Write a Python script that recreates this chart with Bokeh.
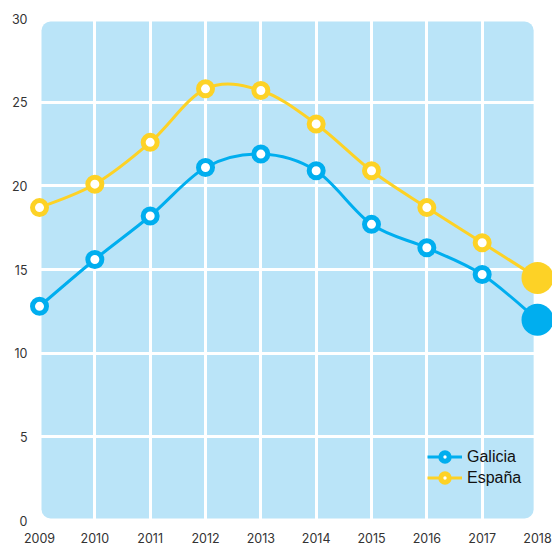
from bokeh.plotting import figure
from bokeh.models import Range1d, FixedTicker, BoxAnnotation, Legend, LegendItem, ColumnDataSource
from bokeh.embed import file_html
from bokeh.resources import INLINE

years = [2009, 2010, 2011, 2012, 2013, 2014, 2015, 2016, 2017, 2018]
galicia = [12.8, 15.6, 18.2, 21.1, 21.9, 20.9, 17.7, 16.3, 14.7, 12.0]
espana = [18.7, 20.1, 22.6, 25.8, 25.7, 23.7, 20.9, 18.7, 16.6, 14.5]
y_ticks = [0, 5, 10, 15, 20, 25, 30]

BLUE = "#00AEEF"
YELLOW = "#FDD226"
BG = "#BAE4F8"


def spline_segments(xs, ys):
    # Catmull-Rom smoothing expressed as cubic Bezier control points
    n = len(xs)
    def tan(v, i):
        a = v[max(i - 1, 0)]
        b = v[min(i + 1, n - 1)]
        return (b - a) / 2.0
    mx = [tan(xs, i) for i in range(n)]
    my = [tan(ys, i) for i in range(n)]
    return dict(
        x0=xs[:-1], y0=ys[:-1], x1=xs[1:], y1=ys[1:],
        cx0=[xs[i] + mx[i] / 3 for i in range(n - 1)],
        cy0=[ys[i] + my[i] / 3 for i in range(n - 1)],
        cx1=[xs[i + 1] - mx[i + 1] / 3 for i in range(n - 1)],
        cy1=[ys[i + 1] - my[i + 1] / 3 for i in range(n - 1)],
    )


p = figure(width=552, height=545, output_backend="svg", toolbar_location=None,
           x_range=Range1d(2008.801, 2018.271), y_range=Range1d(0, 30.6),
           min_border_left=28, min_border_right=0, min_border_top=8, min_border_bottom=0)
p.outline_line_color = None
p.background_fill_color = "white"
p.border_fill_color = "white"

bg = BoxAnnotation(left=2009.036, right=2017.93, bottom=0.12, top=29.82,
                   fill_color=BG, fill_alpha=1, line_color=None, border_radius=9, level="image")
p.add_layout(bg)

p.xgrid.ticker = FixedTicker(ticks=years[1:-1])
p.ygrid.ticker = FixedTicker(ticks=y_ticks[1:-1])
for g in (p.xgrid, p.ygrid):
    g.grid_line_color = "white"
    g.grid_line_width = 3
    g.level = "underlay"

p.xaxis.ticker = FixedTicker(ticks=years)
p.xaxis.major_label_overrides = {y: str(y) for y in years}
p.yaxis.ticker = FixedTicker(ticks=y_ticks)
for ax in (p.xaxis, p.yaxis):
    ax.axis_line_color = None
    ax.major_tick_line_color = None
    ax.minor_tick_line_color = None
    ax.major_tick_out = 0
    ax.major_tick_in = 0
    ax.major_label_text_font = "Inter"
    ax.major_label_text_font_size = "12.5px"
    ax.major_label_text_color = "#333333"
p.xaxis.major_label_standoff = 12
p.yaxis.major_label_standoff = 1

items = []
for name, vals, col in (("Galicia", galicia, BLUE), ("España", espana, YELLOW)):
    seg = ColumnDataSource(spline_segments(years, vals))
    ln = p.bezier(x0="x0", y0="y0", x1="x1", y1="y1", cx0="cx0", cy0="cy0", cx1="cx1", cy1="cy1",
                  source=seg, line_color=col, line_width=3)
    mk = p.scatter(years[:-1], vals[:-1], size=14, fill_color="white", line_color=col, line_width=5)
    p.scatter(years[-1:], vals[-1:], size=32, fill_color=col, line_color=None)
    items.append(LegendItem(label=name, renderers=[ln, mk]))

legend = Legend(items=items, location=(399, 32), orientation="vertical",
                glyph_width=35, glyph_height=21, label_height=21, label_standoff=5,
                spacing=0, padding=0, margin=0,
                background_fill_alpha=0, border_line_alpha=0,
                label_text_font="Liberation Sans", label_text_font_size="16px",
                label_text_color="#111111")
p.add_layout(legend, "center")

open("out.html", "w").write(file_html(p, INLINE))
